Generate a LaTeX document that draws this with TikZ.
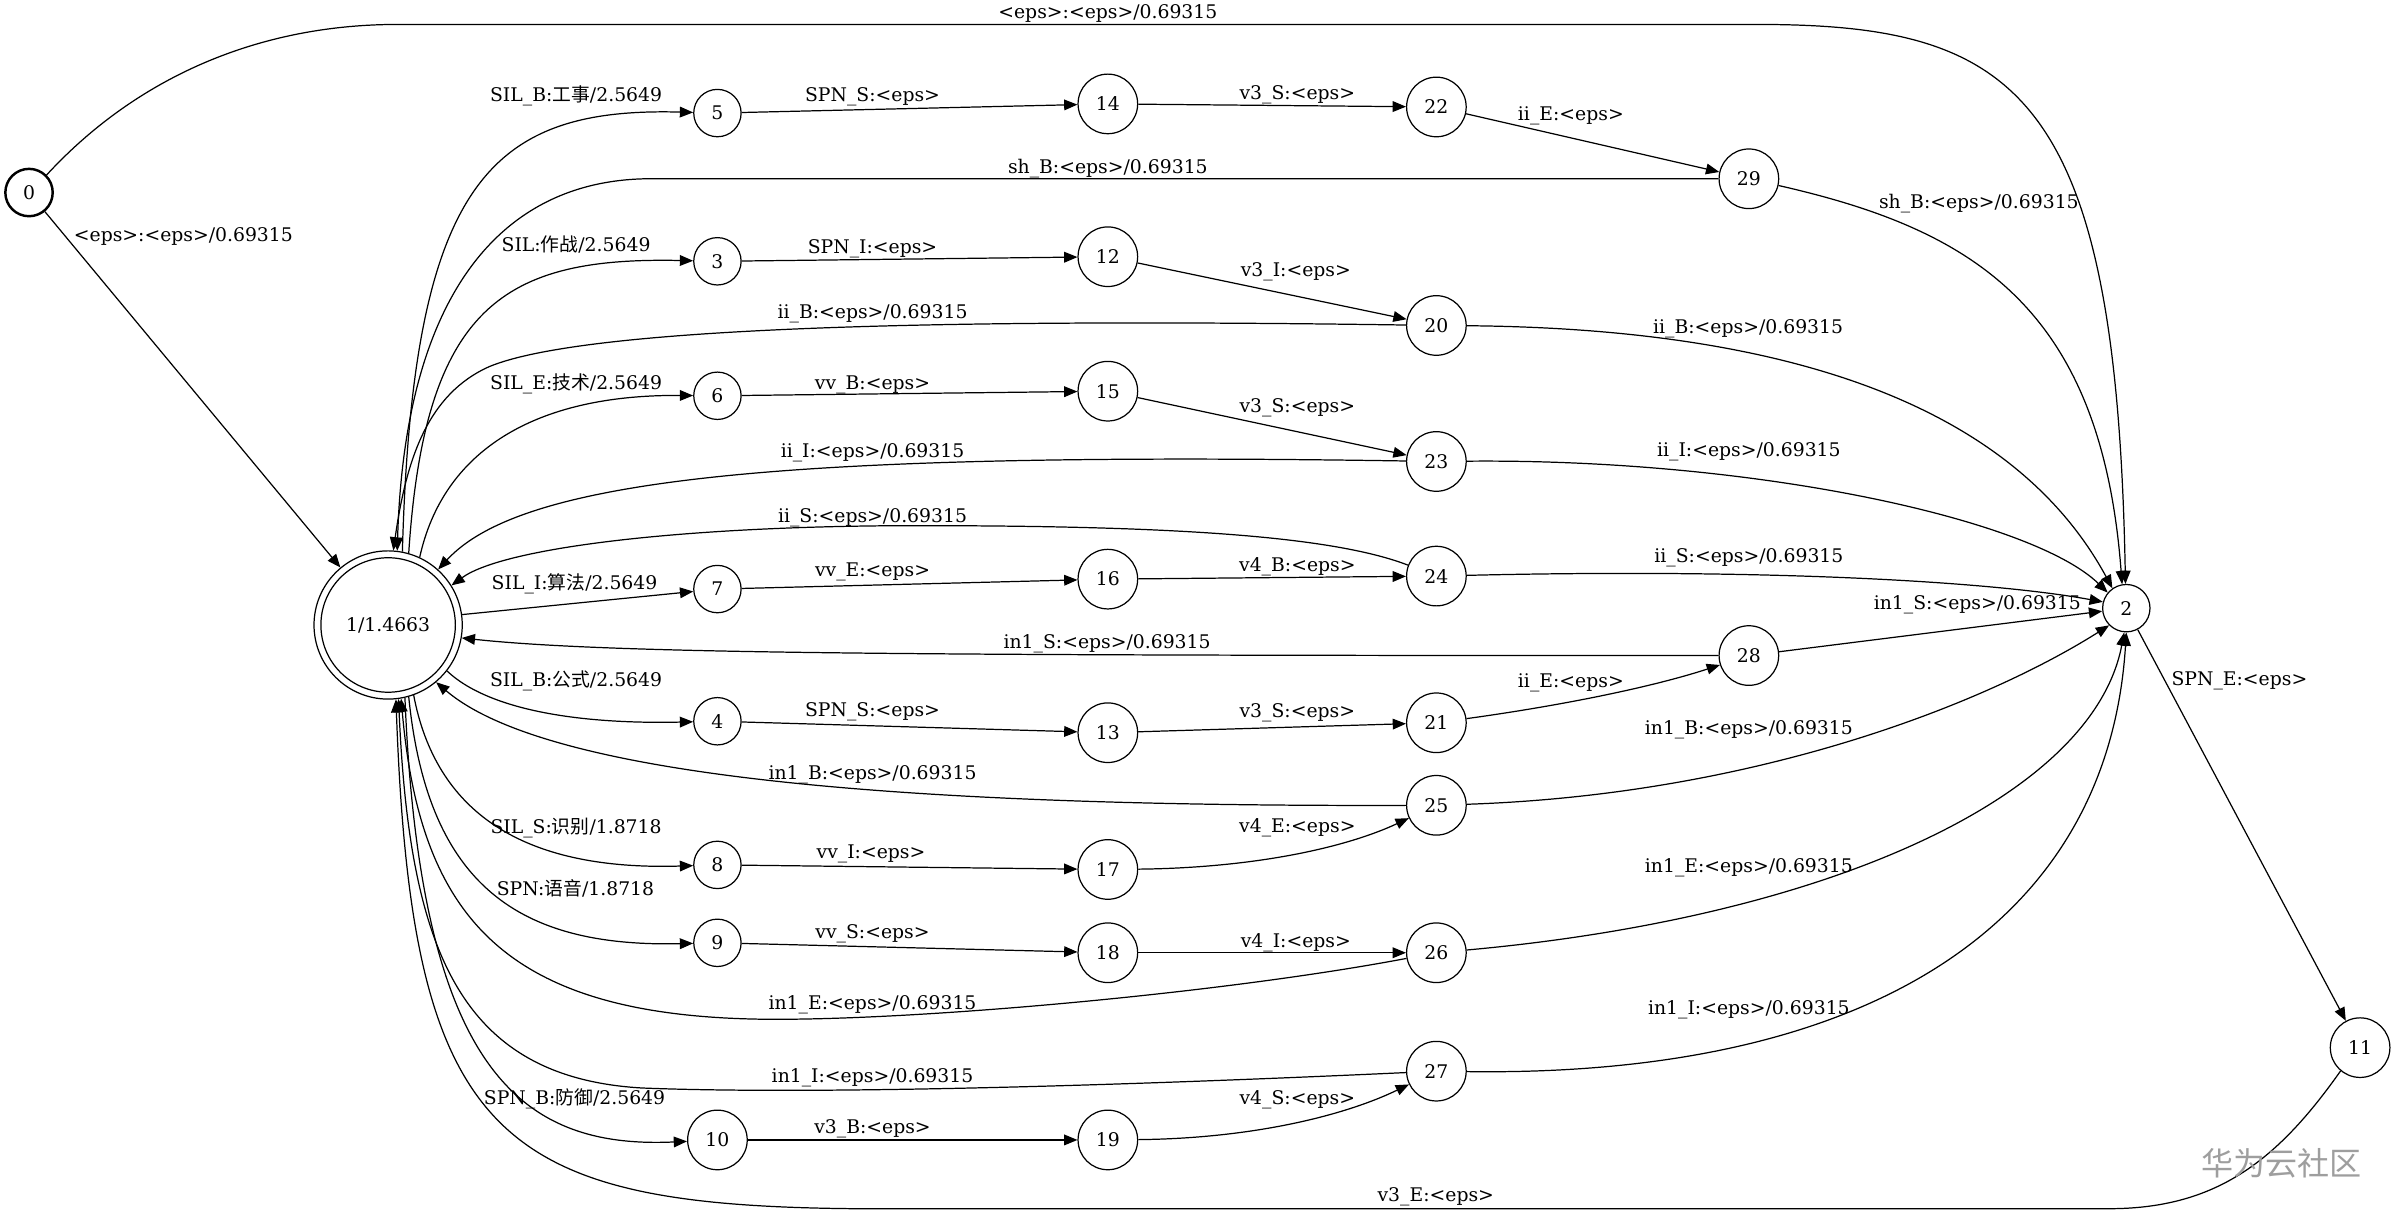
\documentclass[tikz,border=0pt]{standalone}
\usepackage{fontspec}
\setmainfont{DejaVu Serif}
\newfontfamily\cjk{Noto Sans CJK SC}
\usetikzlibrary{arrows.meta}
\newcommand{\EPS}{<eps>}
\begin{document}
\begin{tikzpicture}[x=1pt,y=-1pt,
  every node/.style={font=\fontsize{12.3}{14}\selectfont},
  st/.style={circle,draw,line width=0.8pt,inner sep=0pt,minimum size=31pt},
  st2/.style={st,minimum size=39pt},
  e/.style={line width=0.8pt,-{Triangle[length=8.7pt,width=7pt]}},
  lbl/.style={inner sep=0pt}]
\useasboundingbox (0,0) rectangle (1568,797);
% states
\node[st,line width=1.6pt] (n0) at (19,126) {0};
\node[circle,draw,line width=0.8pt,minimum size=97pt,inner sep=0pt] (n1) at (254,409) {1/1.4663};
\draw[line width=0.8pt] (n1.center) circle (44pt);
\node[st] (n2) at (1391.5,398) {2};
\node[st] (n3) at (469.5,171) {3};
\node[st] (n4) at (469.5,472) {4};
\node[st] (n5) at (469.5,74) {5};
\node[st] (n6) at (469.5,259) {6};
\node[st] (n7) at (469.5,385.5) {7};
\node[st] (n8) at (469.5,566) {8};
\node[st] (n9) at (469.5,617) {9};
\node[st2] (n10) at (469.5,746) {10};
\node[st2] (n11) at (1544.5,685.6) {11};
\node[st2] (n12) at (725,168) {12};
\node[st2] (n13) at (725,479.5) {13};
\node[st2] (n14) at (725,68) {14};
\node[st2] (n15) at (725,256) {15};
\node[st2] (n16) at (725,379) {16};
\node[st2] (n17) at (725,569) {17};
\node[st2] (n18) at (725,623.5) {18};
\node[st2] (n19) at (725,746) {19};
\node[st2] (n20) at (940,213) {20};
\node[st2] (n21) at (940,473) {21};
\node[st2] (n22) at (940,70) {22};
\node[st2] (n23) at (940,302) {23};
\node[st2] (n24) at (940,377) {24};
\node[st2] (n25) at (940,527) {25};
\node[st2] (n26) at (940,623.5) {26};
\node[st2] (n27) at (940,701) {27};
\node[st2] (n28) at (1144.5,429) {28};
\node[st2] (n29) at (1144.5,117) {29};
% edges from 0
\draw[e] (n0.45) .. controls (90,50) and (170,16) .. (260,16) -- (1150,16) .. controls (1320,16) and (1385,60) .. (n2.92)
  node[lbl] (l02) at (725,9) {\EPS:\EPS/0.69315};
\draw[e] (n0) -- (n1) node[lbl] (l01) at (120,154.5) {\EPS:\EPS/0.69315};
% top chain
\draw[e] (n1.79) .. controls (270,120) and (320,70) .. (n5) node[lbl] (l15) at (377,63) {SIL\_B:{\cjk 工事}/2.5649};
\draw[e] (n5) -- (n14) node[lbl] (l514) at (571,63) {SPN\_S:\EPS};
\draw[e] (n14) -- (n22) node[lbl] (l1422) at (849,62) {v3\_S:\EPS};
\draw[e] (n22) -- (n29) node[lbl] (l2229) at (1028,76) {ii\_E:\EPS};
\draw[e] (n29) -- (430,117) .. controls (330,115) and (265,190) .. (n1.83)
  node[lbl] (l291) at (725,110) {sh\_B:\EPS/0.69315};
\draw[e] (n29) .. controls (1290,150) and (1375,200) .. (n2.100)
  node[lbl] (l292) at (1295,133) {sh\_B:\EPS/0.69315};
% 3 chain
\draw[e] (n1.74) .. controls (278,200) and (330,168) .. (n3) node[lbl] (l13) at (377,160) {SIL:{\cjk 作战}/2.5649};
\draw[e] (n3) -- (n12) node[lbl] (l312) at (571,162.6) {SPN\_I:\EPS};
\draw[e] (n12) -- (n20) node[lbl] (l1220) at (848,178) {v3\_I:\EPS};
\draw[e] (n20) .. controls (600,208) and (380,215) .. (320,240) .. controls (280,258) and (266,300) .. (n1.86)
  node[lbl] (l201) at (571,205) {ii\_B:\EPS/0.69315};
\draw[e] (n20) .. controls (1180,215) and (1320,270) .. (n2.125)
  node[lbl] (l202) at (1144,215) {ii\_B:\EPS/0.69315};
% 6 chain
\draw[e] (n1.65) .. controls (290,295) and (350,258) .. (n6) node[lbl] (l16) at (377,251) {SIL\_E:{\cjk 技术}/2.5649};
\draw[e] (n6) -- (n15) node[lbl] (l615) at (571,251.6) {vv\_B:\EPS};
\draw[e] (n15) -- (n23) node[lbl] (l1523) at (849,267) {v3\_S:\EPS};
\draw[e] (n23) .. controls (500,295) and (340,315) .. (n1.48)
  node[lbl] (l231) at (571,296.6) {ii\_I:\EPS/0.69315};
\draw[e] (n23) .. controls (1150,300) and (1330,340) .. (n2.140)
  node[lbl] (l232) at (1144.5,295.6) {ii\_I:\EPS/0.69315};
% 7 chain
\draw[e] (n24) .. controls (870,350) and (760,344) .. (600,344) .. controls (450,344) and (330,358) .. (n1.32)
  node[lbl] (l241) at (571,338.6) {ii\_S:\EPS/0.69315};
\draw[e] (n24) .. controls (1150,372) and (1300,380) .. (n2.165)
  node[lbl] (l242) at (1144.5,364.7) {ii\_S:\EPS/0.69315};
\draw[e] (n1.8) -- (n7) node[lbl] (l17) at (376,382) {SIL\_I:{\cjk 算法}/2.5649};
\draw[e] (n7) -- (n16) node[lbl] (l716) at (571,374.5) {vv\_E:\EPS};
\draw[e] (n16) -- (n24) node[lbl] (l1624) at (849,371) {v4\_B:\EPS};
% 28
\draw[e] (n28) .. controls (600,429) and (400,428) .. (n1.-10)
  node[lbl] (l281) at (724.5,421) {in1\_S:\EPS/0.69315};
\draw[e] (n28) -- (n2) node[lbl] (l282) at (1294,396) {in1\_S:\EPS/0.69315};
% 4 chain
\draw[e] (n1.-38) .. controls (320,465) and (380,474) .. (n4) node[lbl] (l14) at (377,445.5) {SIL\_B:{\cjk 公式}/2.5649};
\draw[e] (n4) -- (n13) node[lbl] (l413) at (571,466) {SPN\_S:\EPS};
\draw[e] (n13) -- (n21) node[lbl] (l1321) at (849,466.4) {v3\_S:\EPS};
\draw[e] (n21) .. controls (1020,462) and (1080,450) .. (n28) node[lbl] (l2128) at (1028,447) {ii\_E:\EPS};
% 25
\draw[e] (n25) .. controls (600,528) and (360,510) .. (n1.-50)
  node[lbl] (l251) at (571,507) {in1\_B:\EPS/0.69315};
\draw[e] (n25) .. controls (1150,520) and (1300,460) .. (n2.-135)
  node[lbl] (l252) at (1144.5,477.3) {in1\_B:\EPS/0.69315};
% 8 chain
\draw[e] (n1.-70) .. controls (285,530) and (340,570) .. (n8) node[lbl] (l18) at (377,542) {SIL\_S:{\cjk 识别}/1.8718};
\draw[e] (n8) -- (n17) node[lbl] (l817) at (570,558.5) {vv\_I:\EPS};
\draw[e] (n17) .. controls (820,568) and (880,555) .. (n25) node[lbl] (l1725) at (849,542) {v4\_E:\EPS};
% 9 chain
\draw[e] (n1.-74) .. controls (280,580) and (340,620) .. (n9) node[lbl] (l19) at (376.6,581.4) {SPN:{\cjk 语音}/1.8718};
\draw[e] (n9) -- (n18) node[lbl] (l918) at (571,611) {vv\_S:\EPS};
\draw[e] (n18) -- (n26) node[lbl] (l1826) at (848,617) {v4\_I:\EPS};
\draw[e] (n26) .. controls (800,650) and (600,668) .. (500,667) .. controls (330,665) and (275,600) .. (n1.-80)
  node[lbl] (l261) at (571,657.3) {in1\_E:\EPS/0.69315};
\draw[e] (n26) .. controls (1200,600) and (1370,520) .. (n2.-95)
  node[lbl] (l262) at (1144.5,567.8) {in1\_E:\EPS/0.69315};
% 10 chain
\draw[e] (n1.-77) .. controls (275,700) and (340,752) .. (n10) node[lbl] (l110) at (376,719.3) {SPN\_B:{\cjk 防御}/2.5649};
\draw[e] (n10) -- (n19) node[lbl] (l1019) at (571,738.4) {v3\_B:\EPS};
\draw[e] (n19) .. controls (820,745) and (880,730) .. (n27) node[lbl] (l1927) at (849,720) {v4\_S:\EPS};
\draw[e] (n27) .. controls (700,712) and (520,716) .. (420,712) .. controls (300,705) and (268,620) .. (n1.-82)
  node[lbl] (l271) at (571,705) {in1\_I:\EPS/0.69315};
\draw[e] (n27) .. controls (1230,705) and (1380,600) .. (n2.-90)
  node[lbl] (l272) at (1144.5,661) {in1\_I:\EPS/0.69315};
% 2 -> 11 -> 1
\draw[e] (n2) -- (n11) node[lbl] (l211) at (1465.5,445.5) {SPN\_E:\EPS};
\draw[e] (n11.-130) .. controls (1490,760) and (1450,791) .. (1380,791) -- (600,791) .. controls (330,793) and (270,760) .. (n1.-84)
  node[lbl] (l111) at (939.6,783) {v3\_E:\EPS};
% watermark
\node[text=black!38,font=\cjk\fontsize{21}{24}\selectfont] (wm) at (1493,761) {华为云社区};
\end{tikzpicture}
\end{document}
